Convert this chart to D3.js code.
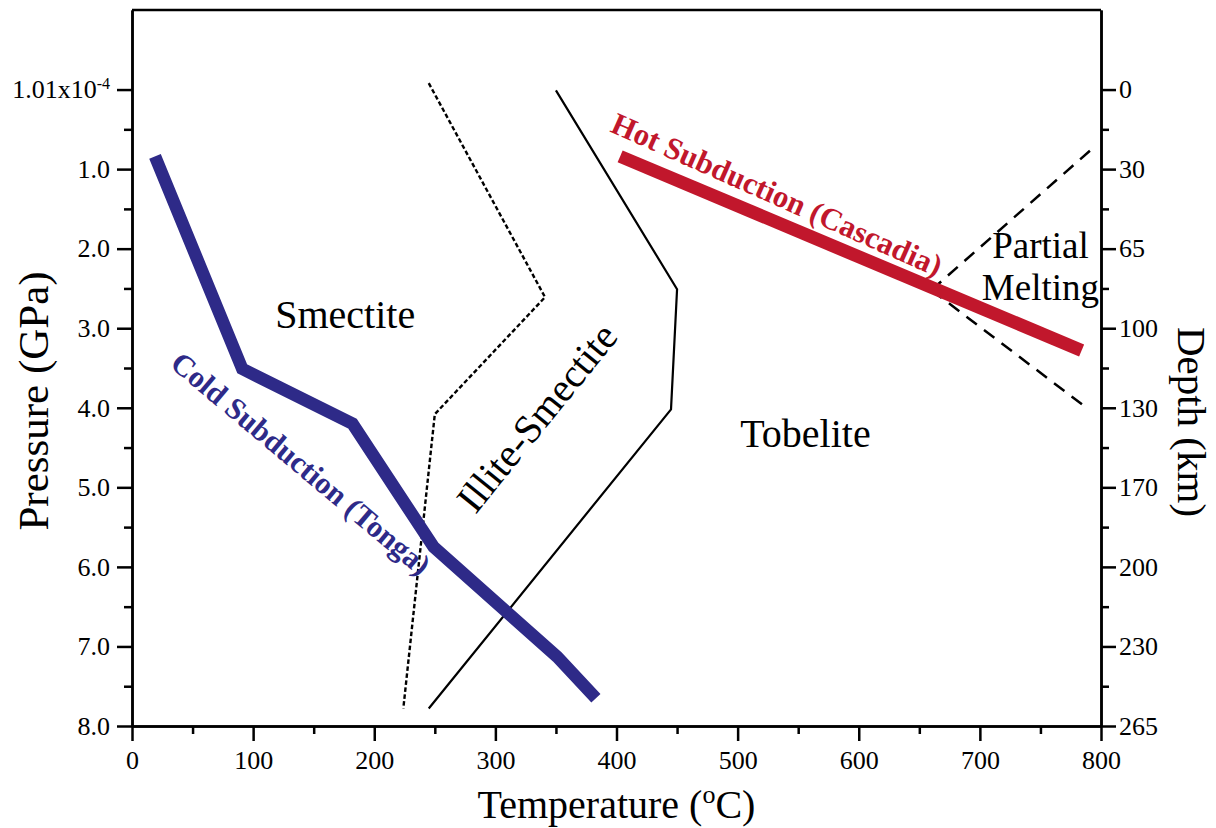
<!DOCTYPE html>
<html>
<head>
<meta charset="utf-8">
<script src="https://cdn.jsdelivr.net/npm/d3@7"></script>
<style>
  body { margin: 0; background: #fff; }
  svg { display: block; }
  text { font-family: "Liberation Serif", "Times New Roman", serif; fill: #000; }
</style>
</head>
<body>
<svg id="chart" width="1216" height="828"></svg>
<script>
// Axis ticks and labels
const tempTicks = [0, 100, 200, 300, 400, 500, 600, 700, 800];
const tempMinorTicks = [50, 150, 250, 350, 450, 550, 650, 750];
const pressureTicks = [0, 1, 2, 3, 4, 5, 6, 7, 8];
const pressureMinorTicks = [0.5, 1.5, 2.5, 3.5, 4.5, 5.5, 6.5, 7.5];
const pressureLabels = ["1.01x10^-4", "1.0", "2.0", "3.0", "4.0", "5.0", "6.0", "7.0", "8.0"];
const depthLabels = ["0", "30", "65", "100", "130", "170", "200", "230", "265"];

// Subduction P-T paths (temperature in °C, pressure in GPa)
const coldT = [19, 91, 182, 249, 351, 383];
const coldP = [0.84, 3.51, 4.20, 5.75, 7.13, 7.65];
const hotT = [403, 784];
const hotP = [0.84, 3.28];

// Clay mineral stability boundaries
const smectiteBoundT = [245, 341, 250, 224];
const smectiteBoundP = [-0.08, 2.61, 4.08, 7.78];
const illiteBoundT = [350, 450, 445, 245];
const illiteBoundP = [0.01, 2.51, 4.02, 7.78];

// Partial melting field boundaries
const meltUpperT = [660, 796];
const meltUpperP = [2.52, 0.70];
const meltLowerT = [660, 788];
const meltLowerP = [2.52, 4.0];

const SERIF = '"Liberation Serif", "Times New Roman", serif';
const svg = d3.select("#chart");
const W = 1216, H = 828;
svg.append("rect").attr("width", W).attr("height", H).attr("fill", "#fff");

const x = d3.scaleLinear().domain([0, 800]).range([132, 1101]);
const y = d3.scaleLinear().domain([-1, 8]).range([10, 726]);

const BLUE = "#2e2a88";
const RED = "#c1172c";
const zip = (ts, ps) => ts.map((t, i) => ({ t, p: ps[i] }));
const line = d3.line().x(d => x(d.t)).y(d => y(d.p));

// ---- plot lines ----
const plot = svg.append("g");
plot.append("path").datum(zip(smectiteBoundT, smectiteBoundP))
  .attr("d", line).attr("fill", "none").attr("stroke", "#000")
  .attr("stroke-width", 2.4).attr("stroke-dasharray", "4.5,2.5");
plot.append("path").datum(zip(illiteBoundT, illiteBoundP))
  .attr("d", line).attr("fill", "none").attr("stroke", "#000")
  .attr("stroke-width", 2.2);
[[meltUpperT, meltUpperP], [meltLowerT, meltLowerP]].forEach(([ts, ps]) => {
  plot.append("path").datum(zip(ts, ps))
    .attr("d", line).attr("fill", "none").attr("stroke", "#000")
    .attr("stroke-width", 2.5).attr("stroke-dasharray", "13,9");
});
plot.append("path").datum(zip(coldT, coldP))
  .attr("d", line).attr("fill", "none").attr("stroke", BLUE)
  .attr("stroke-width", 12.5).attr("stroke-linejoin", "miter");
plot.append("path").datum(zip(hotT, hotP))
  .attr("d", line).attr("fill", "none").attr("stroke", RED)
  .attr("stroke-width", 13);

// ---- region labels ----
function label(t, p, txt, opts = {}) {
  const el = svg.append("text")
    .attr("transform", `translate(${x(t)},${y(p)}) rotate(${opts.angle || 0})`)
    .attr("text-anchor", "middle")
    .attr("font-family", SERIF)
    .style("font-size", (opts.size || 40) + "px")
    .text(txt);
  if (opts.bold) el.style("font-weight", "bold");
  if (opts.color) el.style("fill", opts.color);
  return el;
}
label(176, 3.0, "Smectite");
label(556, 4.49, "Tobelite");
label(750, 2.12, "Partial", { size: 37 });
label(750, 2.645, "Melting", { size: 37 });
label(343, 4.23, "Illite-Smectite", { angle: -51, size: 40 });
label(134, 4.80, "Cold Subduction (Tonga)", { angle: 40, size: 30.5, bold: true, color: BLUE });
label(529, 1.44, "Hot Subduction (Cascadia)", { angle: 24, size: 31, bold: true, color: RED });

// ---- axes ----
function styleAxis(g) {
  g.attr("font-family", SERIF).attr("font-size", 26);
  g.select(".domain").attr("stroke", "#000").attr("stroke-width", 2.5);
  g.selectAll(".tick line").attr("stroke", "#000").attr("stroke-width", 2.5);
  g.selectAll(".tick text")
    .style("font-family", SERIF)
    .style("font-size", "26px").attr("fill", "#000");
}

// bottom
svg.append("g").attr("transform", "translate(0,726)")
  .call(d3.axisBottom(x).tickValues(tempMinorTicks).tickSize(8).tickSizeOuter(0).tickFormat(""))
  .call(styleAxis);
svg.append("g").attr("transform", "translate(0,726)")
  .call(d3.axisBottom(x).tickValues(tempTicks).tickSize(15).tickSizeOuter(0).tickFormat(d3.format("d")))
  .call(styleAxis)
  .call(g => g.selectAll(".tick text").attr("y", 25).attr("dy", "0.71em"));

// left
svg.append("g").attr("transform", "translate(132,0)")
  .call(d3.axisLeft(y).tickValues(pressureMinorTicks).tickSize(8).tickSizeOuter(0).tickFormat(""))
  .call(styleAxis);
const leftAxis = svg.append("g").attr("transform", "translate(132,0)")
  .call(d3.axisLeft(y).tickValues(pressureTicks).tickSize(15).tickSizeOuter(0).tickPadding(7)
    .tickFormat((d, i) => pressureLabels[i]))
  .call(styleAxis);
// superscript exponent on the surface-pressure label
leftAxis.selectAll(".tick text").each(function (d, i) {
  const s = pressureLabels[i];
  if (s.includes("^")) {
    const [base, exp] = s.split("^");
    const t = d3.select(this).text("");
    t.append("tspan").text(base);
    t.append("tspan").attr("dy", "-9").style("font-size", "16px").text(exp);
  }
});

// right (depth)
svg.append("g").attr("transform", "translate(1101,0)")
  .call(d3.axisRight(y).tickValues(pressureMinorTicks).tickSize(8).tickSizeOuter(0).tickFormat(""))
  .call(styleAxis);
svg.append("g").attr("transform", "translate(1101,0)")
  .call(d3.axisRight(y).tickValues(pressureTicks).tickSize(15).tickSizeOuter(0).tickPadding(3)
    .tickFormat((d, i) => depthLabels[i]))
  .call(styleAxis);

// top border
svg.append("line").attr("x1", 132).attr("x2", 1101).attr("y1", 10).attr("y2", 10)
  .attr("stroke", "#000").attr("stroke-width", 2.5);

// ---- axis titles ----
const xTitle = svg.append("text")
  .attr("x", x(400)).attr("y", 818).attr("text-anchor", "middle")
  .attr("font-family", SERIF)
  .style("font-size", "40px");
xTitle.append("tspan").text("Temperature (");
xTitle.append("tspan").attr("dy", "-15").style("font-size", "26px").text("o");
xTitle.append("tspan").attr("dy", "15").text("C)");

svg.append("text")
  .attr("transform", "translate(48,401) rotate(-90)")
  .attr("text-anchor", "middle").attr("font-family", SERIF).style("font-size", "43px")
  .text("Pressure (GPa)");

svg.append("text")
  .attr("transform", "translate(1178,422) rotate(90)")
  .attr("text-anchor", "middle").attr("font-family", SERIF).style("font-size", "41px")
  .text("Depth (km)");
</script>
</body>
</html>
